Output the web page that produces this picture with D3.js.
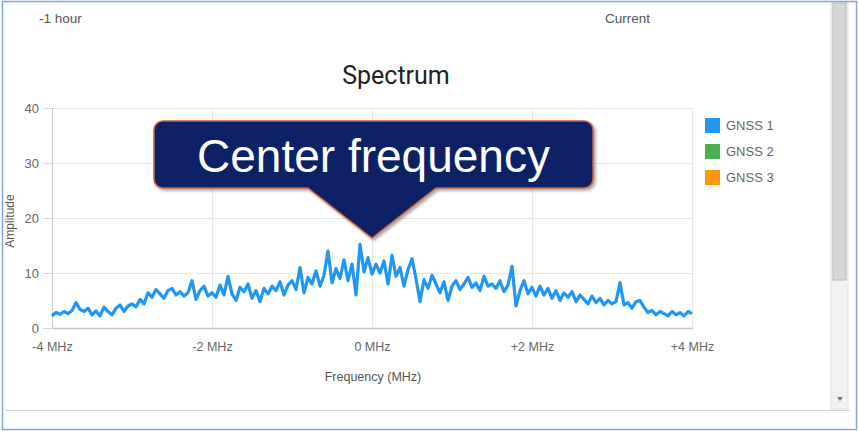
<!DOCTYPE html>
<html>
<head>
<meta charset="utf-8">
<script src="https://cdn.jsdelivr.net/npm/d3@7/dist/d3.min.js"></script>
<style>
  html, body { margin: 0; padding: 0; background: #fff; }
  svg { display: block; }
</style>
</head>
<body>
<svg id="chart" width="859" height="431"></svg>
<script>
// Spectrum amplitude, sampled every 0.05 MHz from -4 MHz to +4 MHz
const freqStart = -4;
const freqStep = 0.05;
const gnss1 = [
  2.2, 2.8, 2.5, 3.0, 2.6, 3.2, 4.6, 3.4, 3.0, 3.6, 2.4,
  3.1, 2.2, 3.8, 3.0, 2.4, 3.6, 4.2, 3.0, 4.0, 4.4,
  3.8, 5.2, 4.4, 6.4, 5.6, 7.0, 6.2, 5.4, 6.8, 7.2,
  6.0, 6.6, 5.8, 6.4, 8.6, 5.2, 6.8, 7.6, 5.8, 6.4,
  5.6, 7.8, 6.0, 9.4, 6.2, 5.0, 7.4, 6.6, 8.0, 5.4,
  6.8, 4.8, 7.2, 6.2, 7.6, 6.8, 8.4, 6.0, 7.8, 8.6,
  7.0, 11.0, 6.4, 9.2, 8.0, 10.4, 7.6, 9.6, 14.0, 8.2,
  10.8, 9.0, 12.4, 8.6, 11.6, 6.0, 15.2, 10.2, 12.8, 9.8,
  11.6, 10.0, 12.2, 8.0, 13.2, 9.4, 11.0, 7.6, 10.6, 12.6,
  9.0, 4.8, 8.8, 7.2, 9.6, 8.0, 6.4, 8.4, 5.0, 7.6,
  8.6, 7.0, 8.0, 9.2, 7.4, 8.2, 6.8, 9.4, 7.6, 8.0,
  7.2, 8.6, 6.6, 7.8, 11.2, 4.0, 6.8, 8.6, 6.2, 7.4,
  5.8, 7.6, 6.0, 7.2, 5.4, 6.8, 5.0, 6.4, 5.6, 6.6,
  4.8, 6.0, 5.2, 4.4, 5.8, 4.6, 5.4, 4.2, 5.0, 4.4,
  4.8, 8.2, 4.2, 4.6, 3.6, 4.8, 5.0, 3.8, 2.8, 3.2,
  2.4, 3.0, 2.6, 2.2, 3.0, 2.4, 2.8, 2.2, 3.0, 2.6
];

const xTicks = [-4, -2, 0, 2, 4];
const xTickLabels = ["-4 MHz", "-2 MHz", "0 MHz", "+2 MHz", "+4 MHz"];
const yTicks = [0, 10, 20, 30, 40];

const seriesNames = ["GNSS 1", "GNSS 2", "GNSS 3"];
const seriesColors = ["#2196f3", "#4caf50", "#ff9800"];

const chartTitle = "Spectrum";
const xTitle = "Frequency (MHz)";
const yTitle = "Amplitude";
const calloutText = "Center frequency";
const calloutFreq = 0;
const rangeLabels = ["-1 hour", "Current"];

const svg = d3.select("#chart");
const W = 859, H = 431;
const font = "Roboto, 'Liberation Sans', Arial, sans-serif";
const sansFont = "'Liberation Sans', Arial, sans-serif";

svg.append("rect").attr("x", 0).attr("y", 0).attr("width", W).attr("height", H).attr("fill", "#fff");

const defs = svg.append("defs");
defs.append("clipPath").attr("id", "panelClip")
  .append("rect").attr("x", 5).attr("y", 3).attr("width", 826).attr("height", 406);

const shadow = defs.append("filter").attr("id", "calloutShadow")
  .attr("x", "-10%").attr("y", "-20%").attr("width", "130%").attr("height", "150%");
shadow.append("feDropShadow").attr("dx", 2).attr("dy", 2).attr("stdDeviation", 1.5)
  .attr("flood-color", "#000").attr("flood-opacity", 0.35);

// Scroll bar on the right of the panel
svg.append("rect").attr("x", 831).attr("y", 3).attr("width", 17).attr("height", 406)
  .attr("fill", "#f1f1f1").attr("stroke", "#e0e0e0");
svg.append("rect").attr("x", 833).attr("y", 3).attr("width", 13).attr("height", 277)
  .attr("fill", "#d6d6d6").attr("stroke", "#b9b9b9");
svg.append("path").attr("d", "M837,397 L843,397 L840,401 Z").attr("fill", "#777");

// Separator under the panel
svg.append("line").attr("x1", 6).attr("x2", 850).attr("y1", 410.5).attr("y2", 410.5)
  .attr("stroke", "#d4d4d4");

// Outer border
svg.append("rect").attr("x", 2.5).attr("y", 1.5).attr("width", W - 5).attr("height", H - 3)
  .attr("fill", "none").attr("stroke", "#7fa7dc").attr("stroke-width", 1.5);

const panel = svg.append("g").attr("clip-path", "url(#panelClip)");

// Time range labels
panel.append("text").attr("x", 39).attr("y", 23).text(rangeLabels[0])
  .attr("font-family", sansFont).attr("font-size", 13.5).attr("fill", "#555");
panel.append("text").attr("x", 605).attr("y", 23).text(rangeLabels[1])
  .attr("font-family", sansFont).attr("font-size", 13.5).attr("fill", "#555");

// Title
panel.append("text").attr("x", 396).attr("y", 84).attr("text-anchor", "middle")
  .text(chartTitle).attr("font-family", font).attr("font-size", 25).attr("fill", "#222");

// Scales
const plot = { left: 52, right: 692, top: 108, bottom: 328 };
const x = d3.scaleLinear().domain([-4, 4]).range([plot.left, plot.right]);
const y = d3.scaleLinear().domain([0, 40]).range([plot.bottom, plot.top]);

// Grid
panel.append("g").selectAll("line").data(yTicks.filter(d => d > 0)).join("line")
  .attr("x1", plot.left).attr("x2", plot.right)
  .attr("y1", d => Math.round(y(d)) + 0.5).attr("y2", d => Math.round(y(d)) + 0.5)
  .attr("stroke", "#e8e8e8");
panel.append("g").selectAll("line").data(xTicks).join("line")
  .attr("x1", d => Math.round(x(d)) + 0.5).attr("x2", d => Math.round(x(d)) + 0.5)
  .attr("y1", plot.top).attr("y2", plot.bottom)
  .attr("stroke", d => d === -4 ? "#c8c8c8" : "#e8e8e8");

// Axes
const xAxis = d3.axisBottom(x).tickValues(xTicks)
  .tickFormat((d, i) => xTickLabels[i]).tickSize(0).tickPadding(14);
const gx = panel.append("g").attr("transform", `translate(0,${plot.bottom})`).call(xAxis);
gx.select(".domain").attr("stroke", "#c4c4c4").attr("stroke-width", 1.5);
gx.selectAll("text").attr("font-family", sansFont).attr("font-size", 12.5).attr("fill", "#666");

const yAxis = d3.axisLeft(y).tickValues(yTicks).tickSize(9).tickPadding(4);
const gy = panel.append("g").attr("transform", `translate(${plot.left},0)`).call(yAxis);
gy.select(".domain").remove();
gy.selectAll(".tick line").attr("stroke", "#d8d8d8");
gy.selectAll("text").attr("font-family", sansFont).attr("font-size", 13).attr("fill", "#666");

// Axis titles
panel.append("text").attr("x", 373).attr("y", 381).attr("text-anchor", "middle")
  .text(xTitle).attr("font-family", sansFont).attr("font-size", 12.5).attr("fill", "#555");
panel.append("text").attr("transform", "translate(14,221) rotate(-90)")
  .attr("text-anchor", "middle").text(yTitle)
  .attr("font-family", sansFont).attr("font-size", 12).attr("fill", "#555");

// Spectrum line
const points = gnss1.map((v, i) => ({ f: freqStart + i * freqStep, v }));
const line = d3.line().x(d => x(d.f)).y(d => y(d.v));
panel.append("path").datum(points).attr("d", line)
  .attr("fill", "none").attr("stroke", seriesColors[0])
  .attr("stroke-width", 3.2).attr("stroke-linejoin", "round");

// Legend
const legend = panel.append("g").attr("transform", "translate(705,118)");
seriesNames.forEach((name, i) => {
  const row = legend.append("g").attr("transform", `translate(0,${i * 26})`);
  row.append("rect").attr("width", 15).attr("height", 15).attr("fill", seriesColors[i]);
  row.append("text").attr("x", 21).attr("y", 12).text(name)
    .attr("font-family", sansFont).attr("font-size", 13).attr("fill", "#666");
});

// Callout pointing at the center frequency
const tipX = x(calloutFreq);
const box = { left: 154, right: 593, top: 121, bottom: 188, r: 9 };
const tipY = 238, halfBase = 64;
const callout = d3.path();
callout.moveTo(box.left + box.r, box.top);
callout.lineTo(box.right - box.r, box.top);
callout.arcTo(box.right, box.top, box.right, box.top + box.r, box.r);
callout.lineTo(box.right, box.bottom - box.r);
callout.arcTo(box.right, box.bottom, box.right - box.r, box.bottom, box.r);
callout.lineTo(tipX + halfBase, box.bottom);
callout.lineTo(tipX, tipY);
callout.lineTo(tipX - halfBase, box.bottom);
callout.lineTo(box.left + box.r, box.bottom);
callout.arcTo(box.left, box.bottom, box.left, box.bottom - box.r, box.r);
callout.lineTo(box.left, box.top + box.r);
callout.arcTo(box.left, box.top, box.left + box.r, box.top, box.r);
callout.closePath();
panel.append("path").attr("d", callout.toString())
  .attr("fill", "#0c2166").attr("stroke", "#c8643a").attr("stroke-width", 1.5)
  .attr("filter", "url(#calloutShadow)");
panel.append("text").attr("x", (box.left + box.right) / 2).attr("y", 172)
  .attr("text-anchor", "middle").text(calloutText)
  .attr("font-family", sansFont).attr("font-size", 46)
  .attr("fill", "#ffffff");
</script>
</body>
</html>
